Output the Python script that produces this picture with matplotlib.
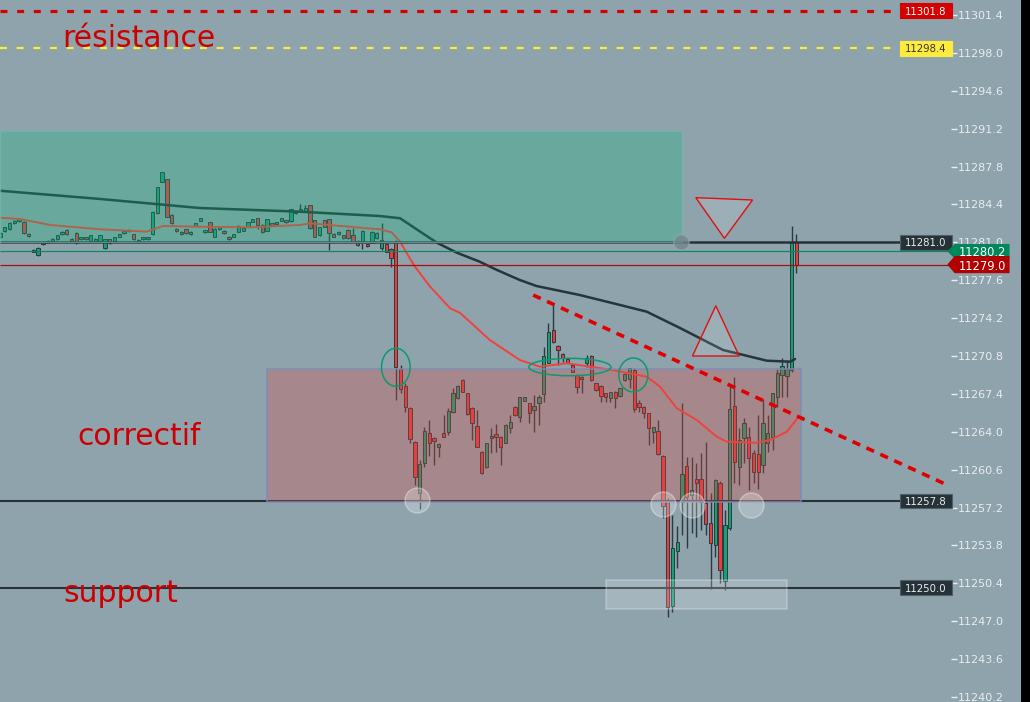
import matplotlib
matplotlib.use('Agg')
import matplotlib.pyplot as plt
import matplotlib.transforms as mtransforms
from matplotlib.patches import Rectangle, Ellipse, Polygon
import numpy as np

plt.rcParams['lines.scale_dashes'] = False
plt.rcParams['font.family'] = ['DejaVu Sans']

# ---------------- data ----------------
OPEN = [11281.51, 11282.05, 11282.17, 11282.71, 11282.89, 11282.86, 11281.72, 11280.32, 11279.84, 11280.86,
        11280.94, 11281.12, 11281.27, 11281.72, 11282.11, 11281.30, 11281.81, 11281.27, 11281.45, 11281.15,
        11281.12, 11281.12, 11280.47, 11281.27, 11281.12, 11281.51, 11281.81, 11281.99, 11281.72, 11281.21,
        11281.27, 11281.27, 11281.72, 11283.61, 11286.45, 11286.66, 11283.43, 11282.20, 11281.93, 11282.17,
        11281.72, 11282.50, 11282.95, 11281.90, 11282.80, 11281.51, 11282.17, 11282.02, 11281.48, 11281.51,
        11281.96, 11282.05, 11282.41, 11282.86, 11283.16, 11282.53, 11282.05, 11282.71, 11282.62, 11282.95,
        11282.98, 11282.89, 11283.76, 11283.79, 11283.82, 11284.33, 11282.98, 11281.63, 11282.98, 11283.07,
        11281.75, 11281.72, 11281.63, 11282.11, 11281.66, 11281.12, 11281.12, 11280.83, 11280.97, 11281.36,
        11280.47, 11280.86, 11280.41, 11281.00, 11269.60, 11268.11, 11266.16, 11263.05, 11258.48, 11261.23,
        11263.86, 11263.41, 11262.60, 11263.86, 11264.01, 11265.75, 11267.00, 11268.65, 11267.45, 11266.16,
        11264.52, 11262.22, 11260.81, 11263.41, 11263.80, 11263.56, 11263.02, 11264.31, 11266.25, 11265.36,
        11266.79, 11266.55, 11265.96, 11266.61, 11267.39, 11270.20, 11273.13, 11271.70, 11270.98, 11270.50,
        11269.99, 11269.10, 11268.95, 11270.14, 11270.80, 11268.35, 11268.11, 11267.45, 11267.00, 11267.57,
        11267.21, 11268.65, 11268.71, 11269.50, 11266.55, 11266.25, 11265.65, 11264.01, 11264.07, 11261.82,
        11257.88, 11248.36, 11253.33, 11257.73, 11260.93, 11258.33, 11259.76, 11259.73, 11257.64, 11255.84,
        11253.84, 11259.43, 11250.63, 11255.33, 11266.31, 11260.81, 11263.47, 11263.56, 11262.12, 11261.97,
        11261.02, 11262.96, 11263.56, 11267.15, 11269.09, 11269.00, 11269.55, 11281.00]
HIGH = [11281.90, 11282.40, 11282.85, 11283.00, 11283.15, 11282.95, 11281.80, 11280.40, 11280.55, 11281.10,
        11281.18, 11281.36, 11281.70, 11282.00, 11282.18, 11281.36, 11281.90, 11281.52, 11281.52, 11281.70,
        11281.36, 11281.70, 11281.33, 11281.33, 11281.52, 11281.78, 11282.08, 11282.17, 11281.78, 11281.27,
        11281.52, 11281.52, 11283.82, 11286.00, 11287.35, 11286.72, 11283.50, 11282.26, 11282.00, 11282.23,
        11282.00, 11282.78, 11283.22, 11282.14, 11282.86, 11282.26, 11282.41, 11282.08, 11281.54, 11281.78,
        11282.56, 11282.32, 11282.86, 11283.13, 11283.22, 11282.65, 11283.13, 11282.77, 11282.86, 11283.22,
        11283.04, 11284.03, 11283.82, 11284.45, 11284.36, 11284.39, 11283.04, 11282.41, 11283.04, 11283.13,
        11281.81, 11281.99, 11281.69, 11282.17, 11282.26, 11281.18, 11282.08, 11280.89, 11281.99, 11281.90,
        11282.71, 11280.92, 11280.47, 11281.20, 11269.99, 11268.35, 11266.25, 11263.15, 11261.47, 11264.46,
        11265.06, 11263.50, 11263.00, 11265.51, 11266.10, 11267.90, 11268.17, 11268.71, 11267.51, 11266.22,
        11265.96, 11262.28, 11263.02, 11264.31, 11264.70, 11263.62, 11264.67, 11265.51, 11266.31, 11267.15,
        11267.15, 11266.61, 11267.30, 11267.30, 11271.64, 11273.73, 11275.38, 11271.76, 11271.04, 11270.56,
        11270.05, 11269.16, 11269.01, 11270.89, 11270.86, 11268.41, 11268.17, 11267.51, 11267.60, 11267.63,
        11267.96, 11269.25, 11269.75, 11269.70, 11266.85, 11266.31, 11265.71, 11264.46, 11265.05, 11261.88,
        11258.03, 11256.53, 11255.54, 11266.55, 11261.76, 11261.76, 11261.17, 11262.06, 11263.11, 11258.47,
        11259.73, 11259.60, 11256.98, 11268.19, 11268.94, 11264.31, 11265.20, 11264.46, 11262.36, 11265.50,
        11266.91, 11265.50, 11267.51, 11269.60, 11270.59, 11270.44, 11282.47, 11281.75]
LOW = [11281.40, 11281.95, 11282.10, 11282.65, 11282.85, 11281.75, 11281.48, 11280.10, 11279.75, 11280.80,
       11280.90, 11281.06, 11281.20, 11281.66, 11281.66, 11281.06, 11280.85, 11281.20, 11281.20, 11281.10,
       11281.06, 11281.06, 11280.41, 11280.85, 11281.06, 11281.45, 11281.75, 11281.93, 11281.20, 11280.94,
       11281.20, 11281.20, 11281.66, 11283.55, 11286.40, 11283.25, 11282.65, 11281.93, 11281.70, 11281.75,
       11281.66, 11282.44, 11282.89, 11281.84, 11281.90, 11281.45, 11282.11, 11281.75, 11281.21, 11281.45,
       11281.90, 11281.99, 11282.35, 11282.80, 11282.17, 11281.84, 11281.99, 11282.47, 11282.56, 11282.89,
       11282.74, 11282.83, 11283.55, 11283.73, 11283.76, 11282.20, 11281.45, 11281.57, 11282.35, 11280.32,
       11281.45, 11281.66, 11281.30, 11281.30, 11281.00, 11280.68, 11280.38, 11280.59, 11280.91, 11281.30,
       11280.32, 11280.11, 11278.82, 11266.85, 11267.45, 11265.81, 11263.02, 11259.22, 11257.04, 11260.87,
       11261.83, 11261.02, 11261.77, 11263.50, 11263.71, 11265.66, 11266.94, 11267.54, 11265.54, 11263.26,
       11262.60, 11260.21, 11260.75, 11262.07, 11262.22, 11261.02, 11262.96, 11263.86, 11265.45, 11264.91,
       11266.73, 11264.76, 11264.01, 11264.61, 11266.70, 11270.14, 11271.94, 11270.00, 11270.29, 11270.14,
       11269.33, 11267.51, 11267.51, 11269.84, 11268.59, 11267.69, 11266.70, 11266.70, 11266.70, 11266.10,
       11267.15, 11268.59, 11267.90, 11265.80, 11265.80, 11265.20, 11262.81, 11263.02, 11261.94, 11256.30,
       11247.35, 11247.86, 11251.74, 11254.74, 11253.54, 11254.89, 11254.58, 11255.19, 11254.73, 11249.86,
       11252.79, 11250.40, 11249.80, 11255.20, 11259.37, 11259.22, 11261.17, 11258.77, 11259.40, 11258.90,
       11260.27, 11262.21, 11262.36, 11266.25, 11267.15, 11267.15, 11269.40, 11278.28]
CLOSE = [11281.81, 11282.35, 11282.77, 11282.92, 11283.07, 11281.81, 11281.54, 11280.14, 11280.47, 11281.03,
         11281.12, 11281.30, 11281.63, 11281.93, 11281.72, 11281.12, 11280.91, 11281.45, 11281.27, 11281.63,
         11281.30, 11281.63, 11281.27, 11280.91, 11281.45, 11281.72, 11282.02, 11282.11, 11281.27, 11281.00,
         11281.45, 11281.45, 11283.76, 11285.94, 11287.29, 11283.31, 11282.71, 11281.99, 11281.75, 11281.81,
         11281.93, 11282.71, 11283.16, 11282.08, 11281.96, 11282.20, 11282.35, 11281.81, 11281.27, 11281.72,
         11282.50, 11282.26, 11282.80, 11283.07, 11282.53, 11281.90, 11283.07, 11282.53, 11282.80, 11283.16,
         11282.80, 11283.97, 11283.61, 11283.97, 11284.06, 11282.26, 11281.51, 11282.35, 11282.41, 11281.81,
         11281.51, 11281.93, 11281.36, 11281.36, 11281.06, 11280.74, 11282.02, 11280.65, 11281.93, 11281.84,
         11281.21, 11280.17, 11279.57, 11269.79, 11267.81, 11266.25, 11263.32, 11259.97, 11261.08, 11264.07,
         11262.96, 11263.20, 11262.90, 11263.56, 11265.87, 11267.45, 11268.11, 11267.60, 11265.60, 11264.82,
         11262.66, 11260.27, 11262.96, 11263.62, 11263.56, 11262.66, 11264.61, 11264.85, 11265.51, 11267.09,
         11267.09, 11265.72, 11266.31, 11267.09, 11270.80, 11272.98, 11272.09, 11271.34, 11270.65, 11270.20,
         11269.39, 11267.99, 11268.71, 11270.59, 11268.65, 11267.75, 11267.21, 11267.15, 11267.54, 11267.00,
         11267.90, 11269.19, 11269.69, 11266.00, 11266.25, 11265.71, 11264.31, 11264.40, 11262.00, 11257.30,
         11248.30, 11253.54, 11254.08, 11260.21, 11258.18, 11258.78, 11259.43, 11257.73, 11255.69, 11253.99,
         11259.67, 11251.59, 11255.63, 11266.04, 11261.32, 11263.26, 11264.81, 11261.62, 11260.36, 11260.42,
         11264.76, 11263.86, 11267.45, 11269.24, 11269.90, 11269.60, 11280.91, 11278.97]

# moving averages sampled along the picture (bar index, price)
MA_SLOW_X = [0, 21.0, 41.9, 62.9, 79.7, 83.9, 88.1, 91.6, 95.8, 100.6, 104.2, 109.0, 112.5, 121.6, 130.0,
             135.6, 142.6, 151.6, 160.8, 165.7, 166.7]
MA_SLOW_Y = [11285.63, 11284.89, 11284.08, 11283.75, 11283.36, 11283.16, 11281.96, 11280.97, 11280.07, 11279.26,
             11278.52, 11277.62, 11277.08, 11276.27, 11275.38, 11274.78, 11273.31, 11271.34, 11270.38, 11270.29,
             11270.53]
MA_FAST_X = [0, 4.2, 10.5, 21.0, 30.8, 34.2, 41.9, 52.4, 62.9, 65.0, 76.9, 79.7, 82.1, 83.9, 85.3, 87.0, 90.2,
             94.4, 96.5, 102.7, 109.0, 113.2, 118.8, 128.5, 135.6, 138.4, 141.9, 146.1, 150.3, 152.4, 158.7,
             161.5, 165.0, 167.1]
MA_FAST_Y = [11283.21, 11283.09, 11282.56, 11282.17, 11281.96, 11282.47, 11282.40, 11282.35, 11282.56, 11282.71,
             11282.26, 11282.17, 11281.90, 11281.06, 11280.02, 11278.82, 11277.02, 11275.08, 11274.66, 11272.24,
             11270.44, 11269.84, 11270.15, 11269.54, 11268.94, 11268.05, 11266.11, 11265.06, 11263.56, 11263.11,
             11263.02, 11263.26, 11264.01, 11265.15]

PRICE_TICKS = [11240.2, 11243.6, 11247.0, 11250.4, 11253.8, 11257.2, 11260.6, 11264.0, 11267.4, 11270.8,
               11274.2, 11277.6, 11281.0, 11284.4, 11287.8, 11291.2, 11294.6, 11298.0, 11301.4]

RESISTANCE_RED = 11301.8
RESISTANCE_YELLOW = 11298.4
LEVEL_TOP = 11281.0
LAST_BID = 11280.2
LAST_PRICE = 11279.0
LEVEL_MID = 11257.8
LEVEL_SUPPORT = 11250.0

ZONE_TEAL = (0, 143.0, 11281.0, 11291.0)       # x0, x1, p0, p1
ZONE_PINK = (56.0, 168.0, 11257.7, 11269.6)
ZONE_SUPPORT = (127.1, 165.0, 11248.1, 11250.7)
TREND = ((111.8, 11276.27), (198.2, 11259.31))
TRI_DOWN = [(145.9, 11285.01), (157.8, 11284.80), (151.9, 11281.36)]
TRI_UP = [(150.1, 11275.31), (145.2, 11270.80), (155.0, 11270.80)]
GREEN_ELLIPSES = [(83.0, 11269.79, 6.0, 3.41), (119.5, 11269.81, 17.2, 1.56), (132.8, 11269.10, 6.1, 3.05)]
LIGHT_CIRCLES = [(87.4, 11257.9), (139.0, 11257.5), (145.2, 11257.4), (157.5, 11257.4)]

# ---------------- figure ----------------
W, H = 1030, 702
DPI = 100
BG = '#8fa3ad'
TXT = '#e8edf0'
UPC = '#14a071'
DNC = '#ea3b3f'
EDGE = '#2c3a3f'

fig = plt.figure(figsize=(W / DPI, H / DPI), dpi=DPI)
fig.patch.set_facecolor(BG)
AX_RIGHT = 951
ax = fig.add_axes([0, 0, AX_RIGHT / W, 1])
ax.set_facecolor(BG)
STEP = 4.769          # px per bar
PXP = 11.144          # px per price unit
ytop = 11301.4 + 15 / PXP
ybot = ytop - H / PXP
XMAX = AX_RIGHT / STEP
XLINE = 900 / STEP

O = np.array(OPEN); Hh = np.array(HIGH); Ll = np.array(LOW); Cc = np.array(CLOSE)
x = np.arange(len(O))
up = Cc >= O
cols = np.where(up, UPC, DNC)

# horizontal levels
ax.hlines(RESISTANCE_RED, 0, XLINE, colors='#d50000', lw=2.3, linestyles=(0, (5, 7)), zorder=3.8)
ax.hlines(RESISTANCE_YELLOW, 0, XLINE, colors='#ffeb3b', lw=1.6, linestyles=(0, (5, 7)), zorder=3.8)
ax.hlines(LEVEL_TOP, 0, XLINE, colors='#263238', lw=1.8, zorder=3.8)
ax.hlines(LAST_BID, 0, XMAX, colors='#0a8a5e', lw=0.9, zorder=3.8)
ax.hlines(LAST_PRICE, 0, XMAX, colors='#a80d0d', lw=0.9, zorder=3.8)
ax.hlines(LEVEL_MID, 0, XLINE, colors='#263238', lw=1.5, zorder=3.8)
ax.hlines(LEVEL_SUPPORT, 0, XLINE, colors='#263238', lw=1.5, zorder=3.8)

# candles
ax.vlines(x, Ll, Hh, colors=EDGE, lw=1.0, zorder=2)
bottom = np.minimum(O, Cc)
height = np.maximum(np.abs(Cc - O), 0.15)
ax.bar(x, height, bottom=bottom, width=0.7, color=cols, edgecolor=EDGE, linewidth=0.7, zorder=2.5)

# moving averages
ax.plot(MA_SLOW_X, MA_SLOW_Y, color='#24363b', lw=1.8, zorder=3, solid_capstyle='round',
        solid_joinstyle='round')
ax.plot(MA_FAST_X, MA_FAST_Y, color='#f2413a', lw=1.4, zorder=3.1, solid_capstyle='round',
        solid_joinstyle='round')

# zones
def zone(z, face, alpha, edge, elw):
    x0, x1, p0, p1 = z
    ax.add_patch(Rectangle((x0, p0), x1 - x0, p1 - p0, facecolor=face, alpha=alpha, edgecolor='none', zorder=4))
    ax.add_patch(Rectangle((x0, p0), x1 - x0, p1 - p0, facecolor='none', edgecolor=edge, lw=elw, zorder=4.1))

zone(ZONE_TEAL, '#14b47b', 0.30, (0.45, 0.72, 0.68, 0.7), 1.0)
zone(ZONE_PINK, '#dc4c42', 0.30, (0.48, 0.55, 0.72, 0.8), 1.2)
zone(ZONE_SUPPORT, '#ffffff', 0.20, (1, 1, 1, 0.25), 1.2)

# trend line
(tx0, tp0), (tx1, tp1) = TREND
ax.plot([tx0, tx1], [tp0, tp1], color='#e00000', lw=2.6, linestyle=(0, (6, 5)), zorder=6, solid_capstyle='butt')

# triangles
ax.add_patch(Polygon(TRI_DOWN, closed=True, facecolor=(1, 1, 1, 0.12), edgecolor='#e01010', lw=1.0, zorder=6))
ax.add_patch(Polygon(TRI_UP, closed=True, facecolor=(1, 1, 1, 0.12), edgecolor='#e01010', lw=1.0, zorder=6))

# ellipses
for cx, cy, ew, eh in GREEN_ELLIPSES:
    ax.add_patch(Ellipse((cx, cy), ew, eh, facecolor='none', edgecolor='#0a9a70', lw=1.1, zorder=6))
ax.scatter([c[0] for c in LIGHT_CIRCLES], [c[1] for c in LIGHT_CIRCLES], s=18 ** 2,
           facecolors=(1, 1, 1, 0.25), edgecolors=(1, 1, 1, 0.35), linewidths=1.0, zorder=6)
# rectangle handle
ax.scatter([ZONE_TEAL[1] - 0.2], [LEVEL_TOP], s=11 ** 2, facecolors=(0.45, 0.52, 0.56, 0.8),
           edgecolors=(0.6, 0.66, 0.7, 0.6), zorder=6.5)

# tags
blend = mtransforms.blended_transform_factory(fig.transFigure, ax.transData)

def tag(price, label, face, fg, x0, x1, arrow=False, fs=7.5, edge=None, h=0.66):
    fx0, fx1 = x0 / W, x1 / W
    tip = 7 / W
    if arrow:
        pts = [(fx0, price), (fx0 + tip, price + h), (fx1, price + h), (fx1, price - h), (fx0 + tip, price - h)]
        tx = (fx0 + tip + fx1) / 2
    else:
        pts = [(fx0, price + h), (fx1, price + h), (fx1, price - h), (fx0, price - h)]
        tx = (fx0 + fx1) / 2
    ax.add_patch(Polygon(pts, closed=True, transform=blend, facecolor=face,
                         edgecolor=edge if edge else face, lw=0.8, zorder=10, clip_on=False))
    ax.text(tx, price, label, transform=blend, ha='center', va='center_baseline', color=fg,
            fontsize=fs, zorder=11, clip_on=False)

tag(RESISTANCE_RED, '11301.8', '#d50000', '#ffffff', 900, 952, fs=7.3)
tag(RESISTANCE_YELLOW, '11298.4', '#ffeb3b', '#333333', 900, 952, fs=7.3)
tag(LEVEL_TOP, '11281.0', '#263238', '#e8edf0', 900, 952, fs=7.3, edge='#50606a')
tag(LEVEL_MID, '11257.8', '#263238', '#e8edf0', 900, 952, fs=7.3, edge='#50606a')
tag(LEVEL_SUPPORT, '11250.0', '#263238', '#e8edf0', 900, 952, fs=7.3, edge='#50606a')
tag(LAST_BID, '11280.2', '#00875a', '#ffffff', 948, 1009, arrow=True, fs=8.3, h=0.6)
tag(LAST_PRICE, '11279.0', '#b00000', '#ffffff', 948, 1009, arrow=True, fs=8.3, h=0.72)

# texts
def ftext(px, py, s):
    fig.text(px / W, 1 - py / H, s, color='#cc0000', fontsize=21.5, ha='left', va='baseline')

ftext(62, 47, 'résistance')
ftext(77, 445, 'correctif')
ftext(63, 602, 'support')

# axis
ax.set_xlim(0, XMAX)
ax.set_ylim(ybot, ytop)
ax.set_xticks([])
ax.yaxis.tick_right()
ax.set_yticks(PRICE_TICKS)
ax.set_yticklabels([f'{t:.1f}' for t in PRICE_TICKS])
ax.tick_params(axis='y', direction='out', length=4.0, width=1.0, color=TXT, labelcolor=TXT,
               labelsize=8, pad=1.0)
for s in ax.spines.values():
    s.set_visible(False)

fig.add_artist(Rectangle((1021 / W, 0), 9 / W, 1, transform=fig.transFigure, facecolor='black',
                         edgecolor='none', zorder=20))

fig.savefig('out.png', dpi=DPI, facecolor=BG)
